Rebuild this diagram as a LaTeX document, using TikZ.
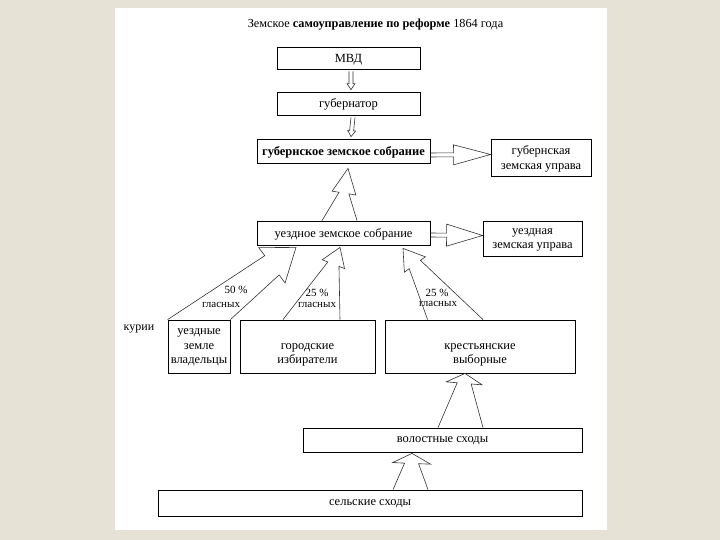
\documentclass[tikz,border=0pt]{standalone}
\usepackage{fontspec}
\setmainfont{Liberation Serif}
\usetikzlibrary{calc}
\definecolor{paper}{RGB}{231,226,214}

\tikzset{box/.style={draw, line width=0.8pt, inner sep=0pt, align=center, text depth=0pt, font=\fontsize{12.5}{14.5}\selectfont},
  hollow/.style={draw=black!80, line width=0.6pt, line join=miter},
  note/.style={inner sep=0pt, font=\fontsize{11}{12}\selectfont}}

% base point 1, base point 2, tip, neck half width, head half width, head length
\newcommand\hollowarrow[6]{%
  \coordinate (ha-a) at ($(#1)!.5!(#2)$); \coordinate (ha-b) at ($(#3)!#6!(ha-a)$);
  \draw[hollow] (#1) -- ($(ha-b)!#4!-90:(ha-a)$) -- ($(ha-b)!#5!-90:(ha-a)$) -- (#3) -- ($(ha-b)!#5!90:(ha-a)$) -- ($(ha-b)!#4!90:(ha-a)$) -- (#2);}

\begin{document}
\begin{tikzpicture}[x=1pt,y=-1pt]
  \fill[paper] (0,0) rectangle (720,540); \fill[white] (115,8) rectangle (607,530);
  \node[inner sep=0pt, font=\fontsize{12.3}{14}\selectfont] (title) at (375.5,25) {Земское \textbf{самоуправление по реформе} 1864 года};
  \node[box, minimum width=143pt, minimum height=22pt] (mvd) at (348.5,58) {МВД};
  \node[box, minimum width=143pt, minimum height=23pt] (gub) at (348.5,103.5) {губернатор};
  \node[box, minimum width=173pt, minimum height=24pt, font=\fontsize{12.5}{14.5}\selectfont\bfseries] (gsob) at (343.5,151) {губернское земское собрание};
  \node[box, minimum width=100pt, minimum height=37pt] (guprava) at (541,157.5) {губернская\\земская управа};
  \node[box, minimum width=173pt, minimum height=24pt] (usob) at (343.5,233) {уездное земское собрание};
  \node[box, minimum width=99pt, minimum height=35pt] (uuprava) at (532.5,238.5) {уездная\\земская управа};
  \node[box, minimum width=62pt, minimum height=53pt] (zem) at (199,346.5) {уездные\\земле\\владельцы};
  \node[box, minimum width=135pt, minimum height=53pt] (gor) at (307.5,346.5) {\mbox{}\\[5pt]городские\\избиратели};
  \node[box, minimum width=190pt, minimum height=53pt] (kr) at (480,346.5) {\mbox{}\\[5pt]крестьянские\\выборные};
  \node[box, minimum width=279pt, minimum height=24pt] (vol) at (442.5,440) {волостные сходы};
  \node[box, minimum width=424pt, minimum height=26pt] (sel) at (370,503) {сельские сходы};
  \node[note, font=\fontsize{12}{13}\selectfont] (kurii) at (139,329) {курии};
  \node[note] (p1) at (236,290) {50 \%}; \node[note] (g1) at (221,305) {гласных};
  \node[note] (p2) at (317,293) {25 \%}; \node[note] (g2) at (317,305) {гласных};
  \node[note] (p3) at (437,293) {25 \%}; \node[note] (g3) at (438,304) {гласных};

  \coordinate (s1r) at ($(mvd.south)+(4.5,2)$); \coordinate (s1l) at ($(mvd.south)+(0.5,2)$); \coordinate (s1t) at ($(gub.north)+(2.5,-2)$);
  \hollowarrow{s1r}{s1l}{s1t}{2pt}{4pt}{6pt}
  \coordinate (s2r) at ($(gub.south)+(6.5,2)$); \coordinate (s2l) at ($(gub.south)+(2.5,2)$); \coordinate (s2t) at ($(gsob.north)+(7.5,-2)$);
  \hollowarrow{s2r}{s2l}{s2t}{2pt}{4pt}{6pt}
  \coordinate (h1u) at ($(gsob.east)+(0,2)$); \coordinate (h1d) at ($(gsob.east)+(0,6)$); \coordinate (h1t) at ($(guprava.west)+(0,-3)$);
  \hollowarrow{h1u}{h1d}{h1t}{2pt}{10pt}{37pt}
  \coordinate (h2u) at ($(usob.east)+(0,0)$); \coordinate (h2d) at ($(usob.east)+(0,4)$); \coordinate (h2t) at ($(uuprava.west)+(0,-3)$);
  \hollowarrow{h2u}{h2d}{h2t}{2pt}{11pt}{36pt}
  \coordinate (u1l) at ($(usob.north)+(-21.5,0)$); \coordinate (u1r) at ($(usob.north)+(13.5,0)$); \coordinate (u1t) at ($(gsob.south)+(4.5,5)$);
  \hollowarrow{u1l}{u1r}{u1t}{5pt}{12pt}{25pt}
  \coordinate (t1) at ($(usob.south)+(-47.5,2)$);
  \hollowarrow{zem.north west}{zem.north east}{t1}{12pt}{22pt}{30pt}
  \coordinate (b2l) at ($(gor.north)+(-24.5,0)$); \coordinate (b2r) at ($(gor.north)+(32.5,0)$); \coordinate (t2) at ($(usob.south)+(-3.5,2)$);
  \hollowarrow{b2l}{b2r}{t2}{6pt}{12pt}{18pt}
  \coordinate (b3l) at ($(kr.north west)+(43,0)$); \coordinate (b3r) at ($(kr.north)+(3,0)$); \coordinate (t3) at ($(usob.south)+(59.5,3)$);
  \hollowarrow{b3l}{b3r}{t3}{7pt}{13pt}{20pt}
  \coordinate (b4l) at ($(vol.north)+(-4.5,0)$); \coordinate (b4r) at ($(vol.north)+(40.5,0)$); \coordinate (t4) at ($(kr.south)+(-15,0)$);
  \hollowarrow{b4l}{b4r}{t4}{7pt}{18pt}{10pt}
  \coordinate (b5l) at ($(sel.north)+(23,0)$); \coordinate (b5r) at ($(sel.north)+(58,0)$); \coordinate (t5) at ($(vol.south)+(-30.5,1)$);
  \hollowarrow{b5l}{b5r}{t5}{7pt}{19pt}{10pt}
\end{tikzpicture}
\end{document}
